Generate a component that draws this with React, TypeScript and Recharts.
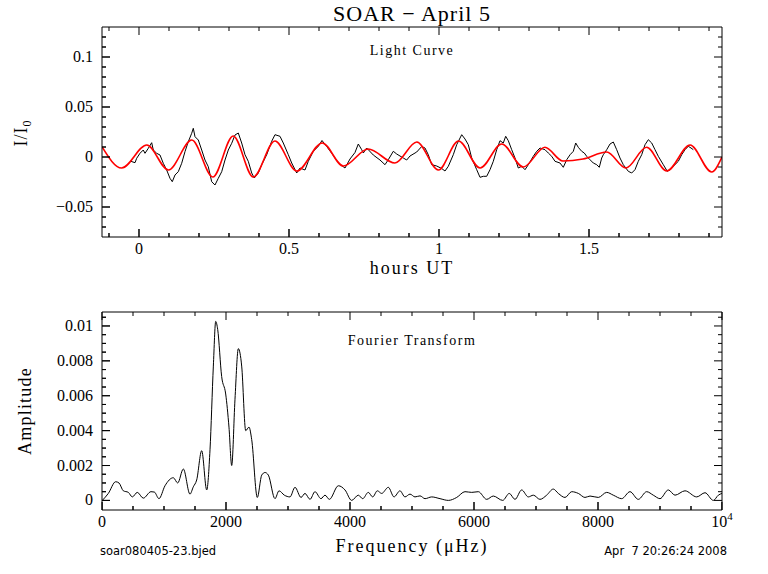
import React from 'react'
import { ComposedChart, Line, Scatter, XAxis, YAxis } from 'recharts'

// light curve (hours UT vs I/I0)
const lcHours = [
  -0.03, -0.0133, -0.0077, 0.0033, 0.0143, 0.02, 0.031, 0.0423, 0.0477, 0.059, 0.07, 0.081, 0.0923,
  0.1033, 0.111, 0.12, 0.131, 0.1423, 0.1533, 0.1643, 0.1757, 0.181, 0.1867, 0.1977, 0.209, 0.22,
  0.231, 0.2423, 0.2533, 0.2643, 0.2757, 0.2867, 0.2977, 0.309, 0.32, 0.331, 0.3423, 0.3533, 0.3643,
  0.3757, 0.3843, 0.3977, 0.409, 0.4257, 0.4423, 0.4533, 0.47, 0.481, 0.4977, 0.509, 0.5257, 0.5367,
  0.5533, 0.5643, 0.581, 0.5977, 0.61, 0.6257, 0.6423, 0.659, 0.6733, 0.6867, 0.7033, 0.72, 0.731,
  0.7423, 0.7477, 0.759, 0.781, 0.8033, 0.82, 0.831, 0.8477, 0.859, 0.881, 0.8923, 0.9033, 0.9257,
  0.9423, 0.9533, 0.9643, 0.9757, 0.9923, 1.009, 1.02, 1.031, 1.0477, 1.059, 1.0757, 1.0867, 1.0977,
  1.109, 1.1257, 1.1367, 1.1477, 1.159, 1.17, 1.181, 1.1923, 1.2033, 1.2143, 1.2223, 1.231, 1.2423,
  1.2533, 1.2643, 1.2757, 1.2867, 1.2977, 1.3143, 1.3257, 1.3367, 1.3533, 1.3643, 1.3757, 1.3867,
  1.4033, 1.4143, 1.4257, 1.437, 1.4477, 1.4557, 1.4643, 1.4757, 1.4843, 1.4923, 1.5033, 1.5143,
  1.5257, 1.5343, 1.5423, 1.5477, 1.559, 1.57, 1.581, 1.5923, 1.6033, 1.6143, 1.631, 1.6423, 1.6533,
  1.6643, 1.6757, 1.6867, 1.6977, 1.709, 1.72, 1.731, 1.7477, 1.761, 1.77, 1.781, 1.7977, 1.809,
  1.82, 1.831, 1.84, 1.8477,
]
const lcFlux = [
  -0.004, -0.0057, -0.0013, 0.0037, 0.007, 0.0037, 0.0087, 0.0143, 0.007, 0.0037, 0.002, -0.0063, -0.013,
  -0.0213, -0.0247, -0.018, -0.0147, -0.0063, 0.0053, 0.0153, 0.0237, 0.0287, 0.0203, 0.017, 0.007, -0.003,
  -0.0097, -0.0247, -0.028, -0.0213, -0.0147, -0.003, 0.007, 0.0137, 0.022, 0.024, 0.014, 0.0023, -0.0043,
  -0.016, -0.021, -0.016, -0.0077, 0.0023, 0.0157, 0.0223, 0.0207, 0.014, 0.0023, -0.006, -0.016, -0.011,
  -0.013, -0.0043, 0.0057, 0.0107, 0.0165, 0.0105, 0.0038, -0.0035, -0.008, -0.011, -0.002, 0.0045, 0.013,
  0.0073, 0.004, 0.009, 0.002, -0.003, -0.0077, -0.0027, 0.0057, 0.003, -0.001, -0.003, 0.001, 0.005,
  0.0105, 0.009, 0.0023, -0.0077, -0.009, -0.0115, -0.014, -0.0093, 0.0023, 0.0123, 0.0223, 0.018, 0.0123,
  -0.001, -0.0127, -0.0203, -0.0193, -0.0193, -0.0127, -0.0043, 0.0073, 0.0163, 0.014, 0.0207, 0.0163, 0.0073,
  -0.001, -0.011, -0.0093, -0.0127, -0.0077, 0.0007, 0.0057, 0.009, 0.0073, 0.004, 0.0007, -0.0043,
  -0.006, -0.0103, -0.0027, 0.0023, 0.0057, 0.014, 0.0097, 0.0057, 0.004, 0.0007, -0.0027, -0.006,
  -0.0077, -0.0103, -0.001, 0.0023, 0.0073, 0.013, 0.015, 0.0073, -0.001, -0.0077, -0.0143, -0.016, -0.0127,
  -0.0043, 0.0023, 0.0123, 0.0173, 0.014, 0.0073, 0.0007, -0.0077, -0.0143, -0.0127, -0.0093, -0.0043, 0.0023,
  0.0073, 0.0107, 0.009, 0.0073,
]

// fitted curve, read at its maxima / minima
const fitHours = [
  -0.123, -0.058, 0.026, 0.098, 0.176, 0.246, 0.314, 0.381, 0.453, 0.526, 0.611, 0.681, 0.764, 0.853,
  0.926, 0.998, 1.065, 1.137, 1.209, 1.281, 1.353, 1.413, 1.48, 1.559, 1.623, 1.692, 1.759, 1.837,
  1.909, 1.943,
]
const fitFlux = [
  0.010, -0.011, 0.012, -0.013, 0.017, -0.020, 0.021, -0.020, 0.016, -0.014, 0.014, -0.009, 0.008, -0.006,
  0.015, -0.013, 0.016, -0.011, 0.013, -0.010, 0.0097, -0.004, -0.002, 0.005, -0.011, 0.0097, -0.014, 0.012,
  -0.015, 0.0,
]

// amplitude spectrum
const ftFreq = [
  5, 102, 220, 274, 344, 425, 489, 569, 666, 790, 844, 919, 1016, 1150, 1221, 1312, 1419, 1473, 1527,
  1608, 1689, 1742, 1796, 1834, 1866, 1930, 1995, 2048, 2092, 2145, 2199, 2253, 2318, 2371, 2414, 2505,
  2576, 2629, 2683, 2790, 2855, 2941, 3032, 3113, 3210, 3274, 3355, 3435, 3532, 3597, 3667, 3812, 3919,
  4027, 4134, 4205, 4295, 4366, 4441, 4511, 4618, 4710, 4806, 4887, 4968, 5048, 5129, 5210, 5318, 5452,
  5586, 5721, 5855, 5963, 6069, 6205, 6311, 6463, 6569, 6661, 6769, 6876, 6957, 7064, 7172, 7279, 7360,
  7468, 7576, 7683, 7790, 7871, 8005, 8140, 8247, 8382, 8516, 8650, 8785, 8892, 9000, 9134, 9242, 9403,
  9592, 9726, 9860, 9941, 10000,
]
const ftAmp = [
  0, 0.0004, 0.00107, 0.001, 0.00055, 0.00046, 0.0002, 0.00046, 0.00013, 0.0005, 0.00048, 0.0001, 0.00084,
  0.0013, 0.001, 0.0018, 0.00036, 0.00078, 0.00117, 0.00285, 0.0006, 0.0029, 0.0077, 0.01026, 0.0098,
  0.0071, 0.0061, 0.0042, 0.002, 0.0058, 0.0087, 0.0077, 0.004, 0.0042, 0.0035, 0.00017, 0.00145, 0.0016,
  0.00145, 0.0001, 0.00055, 0.0003, 0.0002, 0.00075, 0.00017, 0.0004, 0.00006, 0.0005, 0.0001, 0.0003,
  0.00006, 0.00084, 0.0006, 0, 0.0003, 0.0001, 0.00046, 0.0002, 0.00055, 0.0004, 0.00075, 0.0002, 0.00055,
  0.0002, 0.00036, 0.0002, 0.00026, 0.0001, 0.0002, 0.0001, 0, 0.00017, 0.0005, 0.00046, 0.0005, 0.00006,
  0.00025, 0, 0.0004, 0.00006, 0.0006, 0.0002, 0.0003, 0.00006, 0.0003, 0.00065, 0.0004, 0.00017, 0.0005,
  0.0004, 0.00017, 0.00025, 0.00017, 0.00046, 0.0003, 0.0001, 0.0005, 0.00006, 0.0005, 0.0003, 0.0001,
  0.0006, 0.0003, 0.00055, 0.0002, 0.00044, 0, 0.0003, 0.0004,
]

const hourTicks = [-0.1, 0, 0.1, 0.2, 0.3, 0.4, 0.5, 0.6, 0.7, 0.8, 0.9, 1, 1.1, 1.2, 1.3, 1.4, 1.5, 1.6, 1.7, 1.8, 1.9]
const fluxTicks = [-0.07, -0.06, -0.05, -0.04, -0.03, -0.02, -0.01, 0, 0.01, 0.02, 0.03, 0.04, 0.05, 0.06, 0.07, 0.08, 0.09, 0.1, 0.11, 0.12]
const freqTicks = [0, 500, 1000, 1500, 2000, 2500, 3000, 3500, 4000, 4500, 5000, 5500, 6000, 6500, 7000, 7500, 8000, 8500, 9000, 9500, 10000]
const ampTicks = [0, 0.0005, 0.001, 0.0015, 0.002, 0.0025, 0.003, 0.0035, 0.004, 0.0045, 0.005, 0.0055, 0.006, 0.0065, 0.007, 0.0075, 0.008, 0.0085, 0.009, 0.0095, 0.01, 0.0105]

const hourDomain: [number, number] = [-0.1233, 1.9433]
const fluxDomain: [number, number] = [-0.08, 0.13]
const freqDomain: [number, number] = [0, 10000]
const ampDomain: [number, number] = [-0.00055, 0.0108]

const lightData = lcHours.map((h, i) => ({ h, v: lcFlux[i] }))
const fitData = fitHours.map((h, i) => ({ h, v: fitFlux[i] }))
const ftData = ftFreq.map((h, i) => ({ h, v: ftAmp[i] }))

// tick positions on the left / bottom frame edges, placed through the chart scales
const lcLeftPts = fluxTicks.map((v) => ({ h: hourDomain[0], v }))
const lcBottomPts = hourTicks.map((h) => ({ h, v: fluxDomain[0] }))
const ftLeftPts = ampTicks.map((v) => ({ h: freqDomain[0], v }))
const ftBottomPts = freqTicks.map((h) => ({ h, v: ampDomain[0] }))

const INK = '#000'
const SERIF = '"Liberation Serif", "Times New Roman", serif'

const isMajor = (v: number, step: number) => {
  const r = v / step
  return Math.abs(r - Math.round(r)) < 1e-6
}

// labels only, on the outer bottom / left axes
const bottomLabel = (step: number, fmt: (v: number) => React.ReactNode) => (p: any) =>
  isMajor(p.payload.value, step) ? (
    <text x={p.x} y={p.y + 16} textAnchor="middle" fontFamily={SERIF} fontSize={16} fill={INK} stroke="none">
      {fmt(p.payload.value)}
    </text>
  ) : (
    <g />
  )
const leftLabel = (step: number, fmt: (v: number) => string) => (p: any) =>
  isMajor(p.payload.value, step) ? (
    <text x={p.x - 8} y={p.y + 5} textAnchor="end" fontFamily={SERIF} fontSize={16} fill={INK} stroke="none">
      {fmt(p.payload.value)}
    </text>
  ) : (
    <g />
  )

// inward tick marks, PGPLOT style
const tickMark = (side: 'top' | 'bottom' | 'left' | 'right', step: number) => (p: any) => {
  const len = isMajor(p.payload.value, step) ? 8 : 4
  const x = Number(p.x)
  const y = Number(p.y)
  if (side === 'top') return <rect x={x - 0.5} y={y} width={1} height={len} fill={INK} />
  if (side === 'bottom') return <rect x={x - 0.5} y={y - len} width={1} height={len} fill={INK} />
  if (side === 'left') return <rect x={x} y={y - 0.5} width={len} height={1} fill={INK} />
  return <rect x={x - len} y={y - 0.5} width={len} height={1} fill={INK} />
}

// same marks drawn as scatter shapes (left / bottom edges)
const leftShape = (step: number) => (p: any) => {
  const len = isMajor(p.payload.v, step) ? 8 : 4
  return <rect x={p.cx} y={p.cy - 0.5} width={len} height={1} fill={INK} />
}
const bottomShape = (step: number) => (p: any) => {
  const len = isMajor(p.payload.h, step) ? 8 : 4
  return <rect x={p.cx - 0.5} y={p.cy - len} width={1} height={len} fill={INK} />
}

const fmtNum = (v: number) => (v < 0 ? '−' + String(-v) : String(v))
const fmtFreq = (v: number) =>
  v === 10000 ? (
    <>
      <tspan>10</tspan>
      <tspan dy={-7} fontSize={11}>4</tspan>
    </>
  ) : (
    String(v)
  )

export default function App() {
  const axisLine = { stroke: INK, strokeWidth: 1 }
  const common = { type: 'number' as const, interval: 0 as const, allowDataOverflow: true, tickSize: 0, tickMargin: 0, tickLine: false }
  return (
    <div style={{ position: 'absolute', left: 0, top: 0, width: 768, height: 574, background: '#fff' }}>
      {/* light curve */}
      <div style={{ position: 'absolute', left: 0, top: 0 }}>
        <ComposedChart width={768} height={290} margin={{ top: 26, right: 45, bottom: 22, left: 41 }}>
          {/* labelled axes, outer */}
          <XAxis xAxisId="bx" dataKey="h" domain={hourDomain} ticks={hourTicks} height={30} {...common}
            axisLine={false} tick={bottomLabel(0.5, fmtNum)} />
          <YAxis yAxisId="by" domain={fluxDomain} ticks={fluxTicks} width={60} {...common}
            axisLine={false} tick={leftLabel(0.05, fmtNum)} />
          {/* thin axes on the frame */}
          <XAxis xAxisId="ax" dataKey="h" domain={hourDomain} ticks={hourTicks} height={1} {...common}
            axisLine={axisLine} tick={tickMark('bottom', 0.5)} />
          <XAxis xAxisId="t" orientation="top" dataKey="h" domain={hourDomain} ticks={hourTicks} height={1} {...common}
            axisLine={axisLine} tick={tickMark('top', 0.5)} />
          <YAxis yAxisId="ay" domain={fluxDomain} ticks={fluxTicks} width={1} {...common}
            axisLine={axisLine} tick={tickMark('left', 0.05)} />
          <YAxis yAxisId="r" orientation="right" domain={fluxDomain} ticks={fluxTicks} width={1} {...common}
            axisLine={axisLine} tick={tickMark('right', 0.05)} />
          <Line xAxisId="t" yAxisId="r" data={fitData} dataKey="v" stroke="none" fill="none" dot={false}
            isAnimationActive={false} legendType="none" />
          <Line xAxisId="ax" yAxisId="ay" data={fitData} dataKey="v" stroke="none" fill="none" dot={false}
            isAnimationActive={false} legendType="none" />
          <Scatter xAxisId="bx" yAxisId="by" data={lcLeftPts} dataKey="v" shape={leftShape(0.05)}
            isAnimationActive={false} legendType="none" />
          <Scatter xAxisId="bx" yAxisId="by" data={lcBottomPts} dataKey="v" shape={bottomShape(0.5)}
            isAnimationActive={false} legendType="none" />
          <Line xAxisId="bx" yAxisId="by" data={lightData} dataKey="v" type="linear" stroke="#000"
            strokeWidth={1} dot={false} isAnimationActive={false} />
          <Line xAxisId="bx" yAxisId="by" data={fitData} dataKey="v" type="monotone" stroke="#ff0000"
            strokeWidth={1.6} dot={false} isAnimationActive={false} />
        </ComposedChart>
      </div>

      {/* Fourier transform */}
      <div style={{ position: 'absolute', left: 0, top: 280 }}>
        <ComposedChart width={768} height={294} margin={{ top: 31, right: 45, bottom: 33, left: 41 }}>
          <XAxis xAxisId="bx" dataKey="h" domain={freqDomain} ticks={freqTicks} height={30} {...common}
            axisLine={false} tick={bottomLabel(2000, fmtFreq)} />
          <YAxis yAxisId="by" domain={ampDomain} ticks={ampTicks} width={60} {...common}
            axisLine={false} tick={leftLabel(0.002, fmtNum)} />
          <XAxis xAxisId="ax" dataKey="h" domain={freqDomain} ticks={freqTicks} height={1} {...common}
            axisLine={axisLine} tick={tickMark('bottom', 2000)} />
          <XAxis xAxisId="t" orientation="top" dataKey="h" domain={freqDomain} ticks={freqTicks} height={1} {...common}
            axisLine={axisLine} tick={tickMark('top', 2000)} />
          <YAxis yAxisId="ay" domain={ampDomain} ticks={ampTicks} width={1} {...common}
            axisLine={axisLine} tick={tickMark('left', 0.002)} />
          <YAxis yAxisId="r" orientation="right" domain={ampDomain} ticks={ampTicks} width={1} {...common}
            axisLine={axisLine} tick={tickMark('right', 0.002)} />
          <Line xAxisId="t" yAxisId="r" data={ftData} dataKey="v" stroke="none" fill="none" dot={false}
            isAnimationActive={false} legendType="none" />
          <Line xAxisId="ax" yAxisId="ay" data={ftData} dataKey="v" stroke="none" fill="none" dot={false}
            isAnimationActive={false} legendType="none" />
          <Scatter xAxisId="bx" yAxisId="by" data={ftLeftPts} dataKey="v" shape={leftShape(0.002)}
            isAnimationActive={false} legendType="none" />
          <Scatter xAxisId="bx" yAxisId="by" data={ftBottomPts} dataKey="v" shape={bottomShape(2000)}
            isAnimationActive={false} legendType="none" />
          <Line xAxisId="bx" yAxisId="by" data={ftData} dataKey="v" type="monotone" stroke="#000"
            strokeWidth={1} dot={false} isAnimationActive={false} />
        </ComposedChart>
      </div>

      {/* titles and labels */}
      <svg width={768} height={574} style={{ position: 'absolute', left: 0, top: 0, pointerEvents: 'none' }}
        fontFamily={SERIF} fill={INK}>
        <text x={412} y={21} textAnchor="middle" fontSize={22} letterSpacing={1}>SOAR − April 5</text>
        <text x={412} y={55} textAnchor="middle" fontSize={14} letterSpacing={1.5}>Light Curve</text>
        <text x={412} y={274} textAnchor="middle" fontSize={18} letterSpacing={2}>hours UT</text>
        <text transform="translate(27,133) rotate(-90)" textAnchor="middle" fontSize={18} letterSpacing={1}>
          I/I<tspan dy={4} fontSize={12}>0</tspan>
        </text>
        <text x={412} y={345} textAnchor="middle" fontSize={14} letterSpacing={1.5}>Fourier Transform</text>
        <text transform="translate(31,411) rotate(-90)" textAnchor="middle" fontSize={18} letterSpacing={1.2}>
          Amplitude
        </text>
        <text x={412} y={552} textAnchor="middle" fontSize={18} letterSpacing={2}>Frequency (μHz)</text>
        <text x={100} y={555} fontFamily='"DejaVu Sans", sans-serif' fontSize={11.5}>soar080405-23.bjed</text>
        <text x={727} y={555} textAnchor="end" fontFamily='"DejaVu Sans", sans-serif' fontSize={11.5}
          style={{ whiteSpace: 'pre' }}>
          Apr  7 20:26:24 2008
        </text>
      </svg>
    </div>
  )
}
